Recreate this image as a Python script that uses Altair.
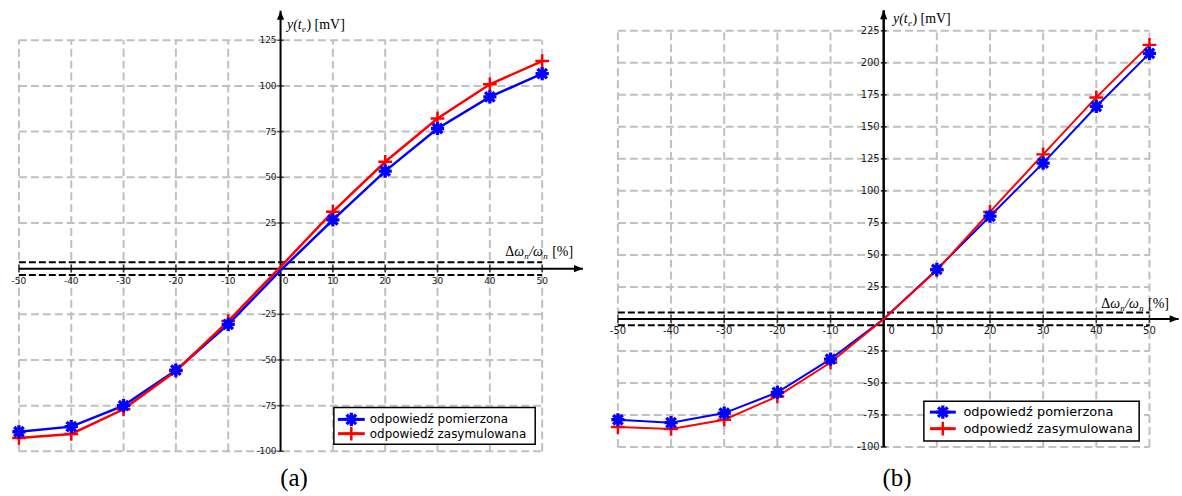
import altair as alt
import pandas as pd

# Relative speed deviation Δω_n/ω_n [%]
x_pct = [-50, -40, -30, -20, -10, 0, 10, 20, 30, 40, 50]

# Panel (a): response y(t_e) [mV]
a_measured = [-89.3, -86.5, -75.0, -55.6, -30.5, -1.0, 26.7, 53.4, 76.7, 94.0, 106.7]
a_simulated = [-92.7, -90.5, -77.0, -56.0, -28.7, 1.0, 31.2, 58.5, 82.2, 100.9, 113.6]

# Panel (b): response y(t_e) [mV]
b_measured = [-78.7, -81.0, -73.5, -57.4, -31.4, 0.0, 38.7, 80.2, 121.7, 165.9, 207.4]
b_simulated = [-84.4, -85.9, -78.7, -60.5, -34.0, 0.0, 38.0, 83.6, 128.5, 173.0, 214.0]

# Axis ticks
x_ticks = [-50, -40, -30, -20, -10, 10, 20, 30, 40, 50]
a_y_ticks = [-100, -75, -50, -25, 25, 50, 75, 100, 125]
b_y_ticks = [-100, -75, -50, -25, 25, 50, 75, 100, 125, 150, 175, 200, 225]

# Dashed tolerance band around zero [mV]
a_band = [-3.5, 3.5]
b_band = [-5.0, 5.0]

series_names = ["odpowiedź pomierzona", "odpowiedź zasymulowana"]
series_colors = ["#0000ff", "#ff0000"]
panel_labels = ["(a)", "(b)"]

STAR = "M0,-1L0,1M-1,0L1,0M-0.72,-0.72L0.72,0.72M-0.72,0.72L0.72,-0.72"
PLUS = "M0,-1L0,1M-1,0L1,0"
ARROW_UP = "M0,0L-0.8,2L0.8,2Z"
ARROW_RIGHT = "M0,0L-2,-0.8L-2,0.8Z"

SANS = "DejaVu Sans"
SERIF = "Liberation Serif"
GRID = "#c0c0c0"


def one(**cols):
    return pd.DataFrame({k: [v] for k, v in cols.items()})


def panel(measured, simulated, y_ticks, band, label, c):
    xs = alt.Scale(domain=c["x_dom"], nice=False, zero=False)
    ys = alt.Scale(domain=c["y_dom"], nice=False, zero=False)

    def X(f):
        return alt.X(f, type="quantitative", scale=xs, axis=None)

    def Y(f):
        return alt.Y(f, type="quantitative", scale=ys, axis=None)

    y_lo, y_hi = min(y_ticks), max(y_ticks)
    x_lo, x_hi = min(x_ticks), max(x_ticks)

    # dashed grid
    gv = pd.DataFrame({"x": x_ticks, "y": y_lo, "y2": y_hi})
    gh = pd.DataFrame({"y": y_ticks, "x": x_lo, "x2": x_hi})
    grid_v = alt.Chart(gv).mark_rule(color=GRID, strokeWidth=2, strokeDash=[8, 4]).encode(
        x=X("x"), y=Y("y"), y2="y2")
    grid_h = alt.Chart(gh).mark_rule(color=GRID, strokeWidth=2, strokeDash=[8, 4]).encode(
        y=Y("y"), x=X("x"), x2="x2")

    # tolerance band
    bd = pd.DataFrame({"y": band, "x": x_lo, "x2": x_hi})
    band_l = alt.Chart(bd).mark_rule(color="black", strokeWidth=2, strokeDash=[7, 3]).encode(
        y=Y("y"), x=X("x"), x2="x2")

    # axes with arrows
    yax = alt.Chart(one(x=0, y=y_lo, y2=c["y_tip"])).mark_rule(
        color="black", strokeWidth=c["axw"]).encode(x=X("x"), y=Y("y"), y2="y2")
    xax = alt.Chart(one(y=0, x=x_lo, x2=c["x_tip"])).mark_rule(
        color="black", strokeWidth=2).encode(y=Y("y"), x=X("x"), x2="x2")
    yarr = alt.Chart(one(x=0, y=c["y_tip"])).mark_point(
        shape=ARROW_UP, filled=True, color="black", opacity=1, size=81).encode(x=X("x"), y=Y("y"))
    xarr = alt.Chart(one(x=c["x_tip"], y=0)).mark_point(
        shape=ARROW_RIGHT, filled=True, color="black", opacity=1, size=81).encode(x=X("x"), y=Y("y"))

    # ticks and tick labels
    yt = pd.DataFrame({"x": 0, "y": y_ticks, "t": [str(v) for v in y_ticks]})
    xt = pd.DataFrame({"y": 0, "x": x_ticks, "t": [str(v) for v in x_ticks]})
    ytick = alt.Chart(yt).mark_tick(orient="horizontal", size=6, thickness=1.5, color="black").encode(
        x=X("x"), y=Y("y"))
    xtick = alt.Chart(xt).mark_tick(orient="vertical", size=8, thickness=1.5, color="black").encode(
        x=X("x"), y=Y("y"))
    ylab = alt.Chart(yt).mark_text(align="right", baseline="middle", dx=-4, font=SANS,
                                   fontSize=c["tfs"], color="#1a1a1a").encode(
        x=X("x"), y=Y("y"), text="t:N")
    xlab = alt.Chart(xt).mark_text(align="center", baseline="middle", dy=c["xdy"], font=SANS,
                                   fontSize=c["tfs"], color="#1a1a1a").encode(
        x=X("x"), y=Y("y"), text="t:N")
    zlab = alt.Chart(one(x=0, y=0, t="0")).mark_text(
        align="center", baseline="middle", dy=c["xdy"], dx=c["zdx"], font=SANS,
        fontSize=c["tfs"], color="#1a1a1a").encode(x=X("x"), y=Y("y"), text="t:N")

    # data series (the x = 0 crossing carries no marker)
    df = pd.concat([
        pd.DataFrame({"x": x_pct, "y": measured, "s": series_names[0]}),
        pd.DataFrame({"x": x_pct, "y": simulated, "s": series_names[1]}),
    ])
    cscale = alt.Scale(domain=series_names, range=series_colors)
    lines = alt.Chart(df).mark_line(strokeWidth=c["lw"]).encode(
        x=X("x"), y=Y("y"), color=alt.Color("s:N", scale=cscale, legend=None),
        order=alt.Order("x:Q"))
    marked = df[df["x"] != 0]
    meas_df = marked[marked["s"] == series_names[0]]
    sim_df = marked[marked["s"] == series_names[1]]
    pts_sim = alt.Chart(sim_df).mark_point(
        shape=PLUS, filled=False, color=series_colors[1], strokeWidth=2.5, opacity=1, size=190).encode(
        x=X("x"), y=Y("y"))
    pts_meas = alt.Chart(meas_df).mark_point(
        shape=STAR, filled=False, color=series_colors[0], strokeWidth=3.3, opacity=1, size=175).encode(
        x=X("x"), y=Y("y"))

    # legend
    L = c["leg"]
    box = alt.Chart(one(a=0)).mark_rect(fill="white", stroke="black", strokeWidth=1.5).encode(
        x=alt.value(L["x0"]), x2=alt.value(L["x1"]), y=alt.value(L["y0"]), y2=alt.value(L["y1"]))
    leg_layers = [box]
    shapes = [(STAR, 3.3, 175), (PLUS, 2.5, 190)]
    for i, name in enumerate(series_names):
        ry = L["rows"][i]
        leg_layers.append(alt.Chart(one(a=0)).mark_rule(color=series_colors[i], strokeWidth=3).encode(
            x=alt.value(L["lx0"]), x2=alt.value(L["lx1"]), y=alt.value(ry)))
        shp, sw, sz = shapes[i]
        leg_layers.append(alt.Chart(one(a=0)).mark_point(
            shape=shp, filled=False, color=series_colors[i], strokeWidth=sw, opacity=1, size=sz).encode(
            x=alt.value((L["lx0"] + L["lx1"]) / 2), y=alt.value(ry)))
        leg_layers.append(alt.Chart(one(t=name)).mark_text(
            align="left", baseline="middle", font=SANS, fontSize=L["fs"], color="black").encode(
            x=alt.value(L["tx"]), y=alt.value(ry), text="t:N"))

    # axis titles
    tx, ty = c["ytitle"]
    ytitle = [
        alt.Chart(one(t="y(t")).mark_text(align="left", baseline="middle", font=SERIF,
                                          fontStyle="italic", fontSize=14).encode(
            x=alt.value(tx), y=alt.value(ty), text="t:N"),
        alt.Chart(one(t="e")).mark_text(align="left", baseline="middle", font=SERIF,
                                        fontStyle="italic", fontSize=9).encode(
            x=alt.value(tx + 15), y=alt.value(ty + 4), text="t:N"),
        alt.Chart(one(t=") [mV]")).mark_text(align="left", baseline="middle", font=SERIF,
                                             fontSize=14).encode(
            x=alt.value(tx + 19.5), y=alt.value(ty), text="t:N"),
    ]
    ux, uy = c["xtitle"]
    xtitle = [
        alt.Chart(one(t="Δ")).mark_text(align="left", baseline="middle", font=SERIF,
                                        fontSize=14).encode(
            x=alt.value(ux), y=alt.value(uy), text="t:N"),
        alt.Chart(one(t="ω")).mark_text(align="left", baseline="middle", font=SERIF,
                                        fontStyle="italic", fontSize=14).encode(
            x=alt.value(ux + 9), y=alt.value(uy), text="t:N"),
        alt.Chart(one(t="n")).mark_text(align="left", baseline="middle", font=SERIF,
                                        fontStyle="italic", fontSize=9).encode(
            x=alt.value(ux + 19), y=alt.value(uy + 4), text="t:N"),
        alt.Chart(one(t="/ω")).mark_text(align="left", baseline="middle", font=SERIF,
                                         fontStyle="italic", fontSize=14).encode(
            x=alt.value(ux + 24), y=alt.value(uy), text="t:N"),
        alt.Chart(one(t="n")).mark_text(align="left", baseline="middle", font=SERIF,
                                        fontStyle="italic", fontSize=9).encode(
            x=alt.value(ux + 38), y=alt.value(uy + 4), text="t:N"),
        alt.Chart(one(t="[%]")).mark_text(align="left", baseline="middle", font=SERIF,
                                          fontSize=14).encode(
            x=alt.value(ux + 47), y=alt.value(uy), text="t:N"),
    ]

    plab = alt.Chart(one(t=label)).mark_text(align="center", baseline="middle", font=SERIF,
                                             fontSize=25).encode(
        x=alt.value(c["plab"][0]), y=alt.value(c["plab"][1]), text="t:N")

    layers = [grid_v, grid_h, band_l, xax, yax, xtick, ytick, ylab, xlab, zlab,
              lines, pts_sim, pts_meas, yarr, xarr] + leg_layers + ytitle + xtitle + [plab]
    return alt.layer(*layers).properties(width=c["w"], height=c["h"])


cfg_a = dict(
    w=580, h=487, x_dom=[-51.905, 58.571], y_dom=[-121.82, 143.86],
    y_tip=141.1, x_tip=57.8, axw=2, tfs=9, xdy=12, zdx=5, lw=2.5,
    leg=dict(x0=326, x1=528, y0=403, y1=440, lx0=330, lx1=357, rows=[415, 429.3], tx=362, fs=12),
    ytitle=(279, 19), xtitle=(498, 247), plab=(286, 474),
)
cfg_b = dict(
    w=590, h=487, x_dom=[-54.875, 55.75], y_dom=[-134.5, 244.5],
    y_tip=241.0, x_tip=55.5, axw=2.5, tfs=10, xdy=12, zdx=8, lw=2,
    leg=dict(x0=333, x1=549, y0=396.7, y1=436.7, lx0=339, lx1=365, rows=[407.7, 424.3], tx=372.7, fs=13),
    ytitle=(302, 13), xtitle=(511, 299), plab=(306, 474),
)

chart = alt.hconcat(
    panel(a_measured, a_simulated, a_y_ticks, a_band, panel_labels[0], cfg_a),
    panel(b_measured, b_simulated, b_y_ticks, b_band, panel_labels[1], cfg_b),
    spacing=5,
).properties(
    padding={"left": 5, "top": 5, "right": 2, "bottom": 4},
    background="white",
).configure_view(strokeWidth=0)

chart.save("out.html", embed_options={"renderer": "svg", "actions": False})
